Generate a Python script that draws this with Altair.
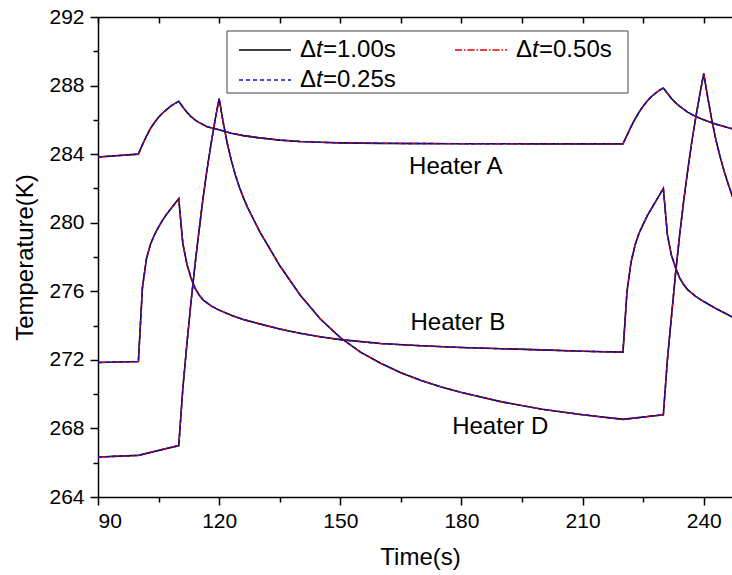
import altair as alt
import pandas as pd

# ---------------- data ----------------
t_A = [90, 100, 101, 102, 103, 104, 105, 106, 107, 108, 109, 110, 111, 112, 113, 114, 115, 117, 120,
       123, 126, 130, 135, 140, 145, 150, 160, 180, 200, 220, 221, 222, 223, 224, 225, 226, 227, 228,
       229, 230, 231, 232, 233, 234, 236, 238, 240, 243, 247.5]
T_A = [283.83, 284.0, 284.55, 285.05, 285.5, 285.85, 286.15, 286.4, 286.6, 286.8, 286.95, 287.08,
       286.75, 286.45, 286.2, 286.0, 285.85, 285.6, 285.42, 285.22, 285.08, 284.95, 284.82, 284.74,
       284.69, 284.66, 284.63, 284.61, 284.6, 284.6, 285.1, 285.6, 286.05, 286.45, 286.8, 287.1,
       287.35, 287.55, 287.72, 287.86, 287.55, 287.25, 287.0, 286.8, 286.45, 286.2, 286.0, 285.75,
       285.45]

t_B = [90, 100, 101, 102, 103, 104, 105, 106, 107, 108, 109, 110, 111, 112, 113, 114, 115, 116, 118,
       120, 123, 126, 130, 135, 140, 145, 150, 160, 170, 180, 190, 200, 210, 220, 221, 222, 223, 224,
       225, 226, 227, 228, 229, 230, 231, 232, 233, 234, 235, 236, 238, 240, 243, 247.5]
T_B = [271.85, 271.9, 276.2, 277.9, 278.75, 279.3, 279.75, 280.15, 280.5, 280.8, 281.1, 281.4,
       278.8, 277.6, 276.8, 276.2, 275.8, 275.5, 275.15, 274.9, 274.6, 274.35, 274.1, 273.8, 273.55,
       273.35, 273.18, 272.95, 272.82, 272.72, 272.65, 272.58, 272.5, 272.45, 276.0, 277.7, 278.7,
       279.4, 279.9, 280.4, 280.8, 281.2, 281.6, 282.0, 279.3, 278.1, 277.4, 276.8, 276.4, 276.1,
       275.7, 275.4, 275.0, 274.45]

t_D = [90, 100, 110, 111, 112, 113, 114, 115, 116, 117, 118, 119, 120, 121, 122, 123, 124, 125, 126,
       127, 130, 135, 140, 145, 150, 155, 160, 165, 170, 175, 180, 190, 200, 210, 220, 230, 231, 232,
       233, 234, 235, 236, 237, 238, 239, 240, 241, 242, 243, 244, 245, 246, 247, 247.5]
T_D = [266.33, 266.43, 267.0, 270.3, 272.9, 275.3, 277.5, 279.5, 281.4, 283.1, 284.6, 286.0, 287.24,
       285.85, 284.65, 283.65, 282.8, 282.08, 281.46, 280.91, 279.5, 277.5, 275.8, 274.4, 273.3,
       272.45, 271.8, 271.25, 270.8, 270.42, 270.1, 269.55, 269.12, 268.8, 268.53, 268.8, 272.0,
       274.5, 277.0, 279.2, 281.2, 283.0, 284.65, 286.1, 287.45, 288.7, 287.3, 286.0, 284.85, 283.9,
       283.05, 282.3, 281.6, 281.3]

heaters = ["Heater A", "Heater B", "Heater D"]
label_t = [178.6, 179.1, 189.6]
label_T = [282.85, 273.75, 267.7]

series_names = ["\u0394t=1.00s", "\u0394t=0.50s", "\u0394t=0.25s"]

x_major = [90, 120, 150, 180, 210, 240]
x_minor = [105, 135, 165, 195, 225]
y_major = [264, 268, 272, 276, 280, 284, 288, 292]
y_minor = [266, 270, 274, 278, 282, 286, 290]

# ---------------- tables ----------------
assert len(t_A) == len(T_A) and len(t_B) == len(T_B) and len(t_D) == len(T_D)
rows = []
for name, ts, Ts in zip(heaters, [t_A, t_B, t_D], [T_A, T_B, T_D]):
    for t, T in zip(ts, Ts):
        rows.append({"t": t, "T": T, "heater": name})
df = pd.DataFrame(rows)
df_lab = pd.DataFrame({"t": label_t, "T": label_T, "text": heaters})

FONT = "Liberation Sans"
W, H = 634, 480
xs = alt.Scale(domain=[90, 247], nice=False, zero=False)
ys = alt.Scale(domain=[264, 292], nice=False, zero=False)

ax_common = dict(grid=False, domainColor="black", tickColor="black", labelColor="black",
                 titleColor="black", labelFont=FONT, titleFont=FONT, domainWidth=1.5, tickWidth=1.5,
                 titleFontWeight="normal")

x_main = alt.Axis(values=x_major, orient="bottom", title="Time(s)", tickSize=8, labelFontSize=21,
                  titleFontSize=24, labelPadding=5, titleY=60, titleX=322, titleBaseline="middle",
                  **ax_common)
y_main = alt.Axis(values=y_major, orient="left", title="Temperature(K)", tickSize=8, labelFontSize=21,
                  titleFontSize=24, labelPadding=6, titleX=-73, titleY=240, titleAngle=-90,
                  titleAlign="center", titleBaseline="middle", **ax_common)
x_min = alt.Axis(values=x_minor, orient="bottom", title=None, labels=False, domain=False, tickSize=5,
                 **ax_common)
y_min = alt.Axis(values=y_minor, orient="left", title=None, labels=False, domain=False, tickSize=5,
                 **ax_common)
x_top = alt.Axis(values=x_major + x_minor, orient="bottom", offset=-H, title=None, labels=False,
                 tickSize=6, **ax_common)
y_none = alt.Axis(values=[], orient="left", title=None, labels=False, domain=False, ticks=False)

base = alt.Chart(df)


def line_layer(color, dash, width, xa, ya):
    kw = dict(color=color, strokeWidth=width, clip=True)
    if dash:
        kw["strokeDash"] = dash
    return base.mark_line(**kw).encode(
        x=alt.X("t:Q", scale=xs, axis=xa),
        y=alt.Y("T:Q", scale=ys, axis=ya),
        detail="heater:N",
    )


l_black = line_layer("#000000", None, 1.6, x_main, y_main)
l_red = line_layer("#e00000", [7, 2, 1.5, 2], 1.4, x_min, y_min)
l_blue = line_layer("#1010d0", [4, 3], 1.4, x_top, y_none)

labels = alt.Chart(df_lab).mark_text(font=FONT, fontSize=24, align="center", baseline="alphabetic",
                                     color="black").encode(
    x=alt.X("t:Q", scale=xs, axis=None),
    y=alt.Y("T:Q", scale=ys, axis=None),
    text="text:N",
)

# ---------------- legend box (drawn by hand to get the italic t) ----------------
one = pd.DataFrame({"k": [0]})
leg_box = alt.Chart(one).mark_rect(fill="white", stroke="#444444", strokeWidth=1).encode(
    x=alt.value(129), x2=alt.value(530), y=alt.value(14), y2=alt.value(76))

leg_items = [
    (series_names[0], 141, 33, "#000000", None),
    (series_names[1], 357, 33, "#e00000", [7, 2, 1.5, 2]),
    (series_names[2], 141, 63, "#1010d0", [4, 3]),
]
leg_layers = [leg_box]
for name, lx, ly, col, dash in leg_items:
    kw = dict(color=col, strokeWidth=1.5)
    if dash:
        kw["strokeDash"] = dash
    leg_layers.append(alt.Chart(one).mark_rule(**kw).encode(
        x=alt.value(lx), x2=alt.value(lx + 52), y=alt.value(ly)))
    rest = name[2:]
    tx = lx + 61
    leg_layers.append(alt.Chart(one).mark_text(font=FONT, fontSize=24, align="left", baseline="middle",
                                               color="black", text="\u0394").encode(
        x=alt.value(tx), y=alt.value(ly)))
    leg_layers.append(alt.Chart(one).mark_text(font=FONT, fontSize=24, align="left", baseline="middle",
                                               color="black", fontStyle="italic", text="t").encode(
        x=alt.value(tx + 16), y=alt.value(ly)))
    leg_layers.append(alt.Chart(one).mark_text(font=FONT, fontSize=24, align="left", baseline="middle",
                                               color="black", text=rest).encode(
        x=alt.value(tx + 23), y=alt.value(ly)))

chart = alt.layer(l_black, l_red, l_blue, labels, *leg_layers).resolve_axis(
    x="independent", y="independent"
).properties(
    width=W, height=H,
    padding={"left": 98, "top": 17, "right": 0, "bottom": 78},
    autosize=alt.AutoSizeParams(type="none"),
).configure_view(stroke=None).configure(background="white")

chart.save("out.html", embed_options={"renderer": "svg", "actions": False})
